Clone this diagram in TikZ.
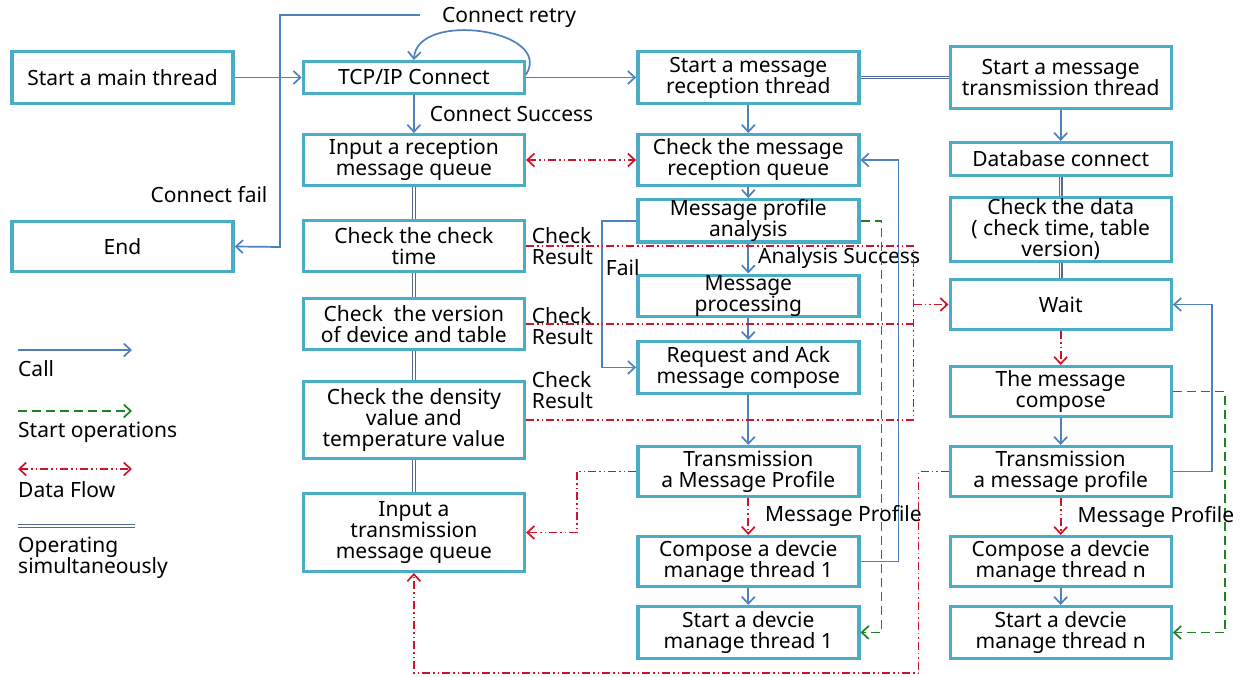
\documentclass[tikz,border=0pt]{standalone}
\usepackage{fontspec}
\setmainfont{Noto Sans}
\usepackage{tikz}
\usetikzlibrary{positioning, arrows.meta, graphs}
\usepackage{xcolor}

\definecolor{boxteal}{RGB}{75,172,198}
\definecolor{callblue}{RGB}{79,129,189}
\definecolor{flowred}{RGB}{205,20,40}
\definecolor{opgreen}{RGB}{30,130,30}
\definecolor{simblue}{RGB}{80,105,150}

\begin{document}
\begin{tikzpicture}[x=1pt, y=1pt, >={Straight Barb[length=7pt,width=13pt]},
    procbox/.style={draw=boxteal, line width=3.4pt, fill=white, align=center, minimum width=221pt, inner xsep=2pt, inner ysep=0pt, font=\fontsize{21}{21}\selectfont},
    lbl/.style={inner sep=0pt, font=\fontsize{21}{21}\selectfont},
    callline/.style={draw=callblue, line width=1.7pt},
    startline/.style={draw=opgreen, line width=1.7pt, dash pattern=on 9pt off 5pt},
    dataline/.style={draw=flowred, line width=1.7pt, dash pattern=on 8pt off 3pt on 1.5pt off 3pt on 1.5pt off 3pt},
    simline/.style={draw=simblue, line width=1.1pt, double=white, double distance=1.5pt}]
    \useasboundingbox (0,0) rectangle (1240,-677);

    \node[procbox, minimum height=51.6pt] (main-thread) at (122.5,-77.5) {Start a main thread};
    \node[procbox, minimum height=49.6pt, below=115pt of main-thread] (end-node) {End};

    \node[procbox, minimum height=31.6pt, right=67pt of main-thread] (tcp-connect) {TCP/IP Connect};
    \node[procbox, minimum height=50.6pt, below=38pt of tcp-connect] (rx-input) {Input a reception\\message queue};
    \node[procbox, minimum height=50.6pt, below=32pt of rx-input] (check-time) {Check the check\\time};
    \node[procbox, minimum height=50.6pt, below=24pt of check-time] (check-ver) {Check~ the version\\of device and table};
    \node[procbox, minimum height=76.6pt, below=29pt of check-ver] (check-dens) {Check the density\\value and\\temperature value};
    \node[procbox, minimum height=77.6pt, below=32pt of check-dens] (tx-input) {Input a\\transmission\\message queue};

    \node[procbox, minimum height=51.6pt, right=110pt of tcp-connect] (rx-thread) {Start a message\\reception thread};
    \node[procbox, minimum height=50.6pt, below=28pt of rx-thread] (rx-check) {Check the message\\reception queue};
    \node[procbox, minimum height=38.6pt, below=11pt of rx-check] (msg-analysis) {Message profile\\analysis};
    \node[procbox, minimum height=36.6pt, below=30pt of msg-analysis] (msg-processing) {Message\\processing};
    \node[procbox, minimum height=51.6pt, below=22pt of msg-processing] (req-ack) {Request and Ack\\message compose};
    \node[procbox, minimum height=49.6pt, below=50pt of req-ack] (tx-profile) {Transmission\\a Message Profile};
    \node[procbox, minimum height=49.6pt, below=37pt of tx-profile] (comp-1) {Compose a devcie\\manage thread 1};
    \node[procbox, minimum height=51.6pt, below=17pt of comp-1] (start-1) {Start a devcie\\manage thread 1};

    \node[procbox, minimum height=61.6pt, right=88pt of rx-thread] (tx-thread) {Start a message\\transmission thread};
    \node[procbox, minimum height=32.6pt, below=31pt of tx-thread] (db-connect) {Database connect};
    \node[procbox, minimum height=63.6pt, below=19pt of db-connect] (check-data) {Check the data\\( check time, table\\version)};
    \node[procbox, minimum height=49.6pt, below=15pt of check-data] (wait-state) {Wait};
    \node[procbox, minimum height=49.6pt, below=34pt of wait-state] (msg-compose) {The message\\compose};
    \node[procbox, minimum height=49.6pt, below=27pt of msg-compose] (tx-profile-n) {Transmission\\a message profile};
    \node[procbox, minimum height=49.6pt, below=37pt of tx-profile-n] (comp-n) {Compose a devcie\\manage thread n};
    \node[procbox, minimum height=51.6pt, below=17pt of comp-n] (start-n) {Start a devcie\\manage thread n};

    \graph{
    (main-thread) -> [callline] (tcp-connect) -> [callline] (rx-thread) -> [callline] (rx-check) -> [callline] (msg-analysis);
    (msg-processing) -> [callline] (req-ack) -> [callline] (tx-profile);
    (comp-1) -> [callline] (start-1);
    (tx-thread) -> [callline] (db-connect);
    (msg-compose) -> [callline] (tx-profile-n);
    (comp-n) -> [callline] (start-n);
    (rx-input) <-> [dataline] (rx-check);
    (wait-state) -> [dataline] (msg-compose);
    (rx-thread) -- [simline] (tx-thread);
    (rx-input) -- [simline] (check-time) -- [simline] (check-ver) -- [simline] (check-dens) -- [simline] (tx-input);
    (db-connect) -- [simline] (check-data) -- [simline] (wait-state);
    };

    \node[lbl] (retry-lbl) at (509,-17) {Connect retry};
    \node[lbl] (fail-lbl) at (209,-195) {Connect fail};
    \coordinate (fail-corner) at (280,-247);
    \draw[callline, ->] ([yshift=3pt]tcp-connect.east) .. controls +(28,45) and +(3,50) .. (tcp-connect.north);
    \draw[callline, ->] ([xshift=-22pt,yshift=2pt]retry-lbl.west) -| (fail-corner) -- (end-node.east);
    \draw[callline, ->] (tcp-connect) -- node[lbl, right=15pt] (success-lbl) {Connect Success} (rx-input);

    \draw[callline, ->] (msg-analysis) -- node[lbl, right=9pt] (analysis-lbl) {Analysis Success} (msg-processing);
    \draw[callline, ->] (msg-analysis.west) -- ++(-34,0) |- node[lbl, pos=0.16, right=3pt] (fail-path-lbl) {Fail} (req-ack.west);
    \draw[callline, ->] (comp-1.east) -- ++(38,0) |- (rx-check.east);
    \draw[callline, ->] (tx-profile-n.east) -- ++(39,0) |- (wait-state.east);
    \draw[startline, ->] (msg-analysis.east) -- ++(21,0) |- (start-1.east);
    \draw[startline, ->] (msg-compose.east) -- ++(52,0) |- (start-n.east);

    \draw[dataline, ->] (tx-profile) -- node[lbl, right=16pt] (profile-lbl) {Message Profile} (comp-1);
    \draw[dataline, ->] (tx-profile-n) -- node[lbl, right=16pt] (profile-n-lbl) {Message Profile} (comp-n);
    \draw[dataline, ->] (tx-profile.west) -- ++(-59,0) |- (tx-input.east);
    \coordinate[below=100pt of tx-input] (loop-bottom);
    \draw[dataline, ->] (tx-profile-n.west) -- ++(-30,0) |- (loop-bottom) -- (tx-input.south);

    \coordinate[left=35pt of wait-state] (result-merge);
    \draw[dataline] (check-time.east) node[lbl, right=5pt, align=left] (result-1) {Check\\Result} -| (result-merge);
    \draw[dataline] (check-ver.east) node[lbl, right=5pt, yshift=-2pt, align=left] (result-2) {Check\\Result} -- (check-ver.east -| result-merge);
    \draw[dataline] (check-dens.east) node[lbl, above right=10pt and 5pt, align=left] (result-3) {Check\\Result} -| (result-merge);
    \draw[dataline, ->] (result-merge) -- (wait-state.west);

    \coordinate (call-a) at (18,-350);
    \coordinate[right=114pt of call-a] (call-b);
    \draw[callline, ->] (call-a) -- (call-b);
    \node[lbl, anchor=west] (call-text) at (18,-369) {Call};

    \coordinate (start-a) at (18,-411);
    \coordinate[right=114pt of start-a] (start-b);
    \draw[startline, ->] (start-a) -- (start-b);
    \node[lbl, anchor=west] (start-text) at (18,-432) {Start operations};

    \coordinate (flow-a) at (18,-469);
    \coordinate[right=114pt of flow-a] (flow-b);
    \draw[dataline, <->] (flow-a) -- (flow-b);
    \node[lbl, anchor=west] (flow-text) at (18,-490) {Data Flow};

    \coordinate (sim-a) at (18,-526);
    \coordinate[right=117pt of sim-a] (sim-b);
    \draw[simline] (sim-a) -- (sim-b);
    \node[lbl, anchor=west, align=left] (sim-text) at (18,-557.5) {Operating\\simultaneously};
\end{tikzpicture}
\end{document}
